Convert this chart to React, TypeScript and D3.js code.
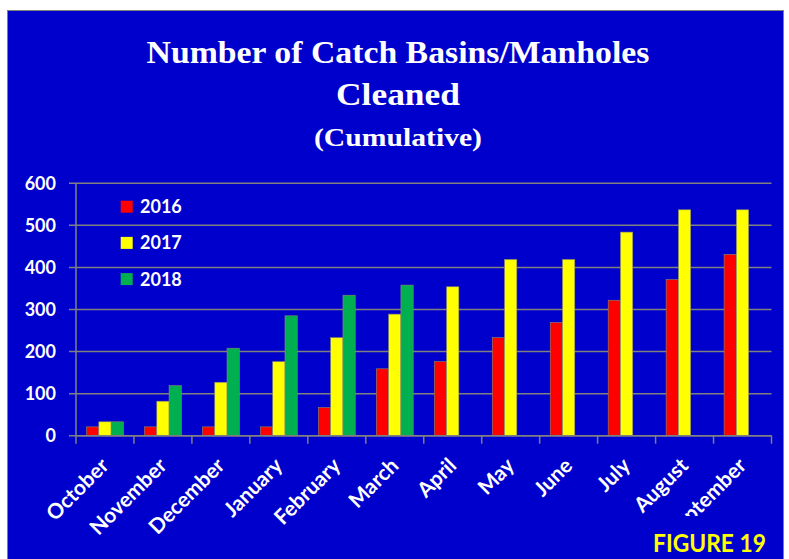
import React from 'react';
import * as d3 from 'd3';

// values
const months = ['October', 'November', 'December', 'January', 'February', 'March', 'April', 'May', 'June', 'July', 'August', 'September'];
const years = ['2016', '2017', '2018'];
const values2016 = [21, 21, 21, 21, 67, 159, 176, 233, 269, 322, 371, 431];
const values2017 = [33, 82, 127, 176, 233, 289, 354, 419, 419, 484, 537, 537];
const values2018: (number | null)[] = [33, 119, 208, 285, 334, 358, null, null, null, null, null, null];
const yTicks = [0, 100, 200, 300, 400, 500, 600];

const colors = ['#FF0000', '#FFFF00', '#00B050'];
const bg = '#0000CC';
const grid = '#808080';
const sans = 'Lato, "Open Sans", sans-serif';
const serif = '"Liberation Serif", "Times New Roman", serif';

const App = () => {
  const width = 789;
  const height = 559;
  const plot = { left: 76, right: 771.5, top: 183.3, bottom: 435.7 };

  const x = d3.scaleBand().domain(months).range([plot.left, plot.right]).padding(0);
  const x1 = d3.scaleBand().domain(years).range([0, x.bandwidth()]).paddingInner(0).paddingOuter(0.86);
  const y = d3.scaleLinear().domain([0, 600]).range([plot.bottom, plot.top]);

  const series = [values2016, values2017, values2018];

  return (
    <svg width={width} height={height} style={{ position: 'absolute', left: 0, top: 0, background: '#fff' }}>
      <rect x={7} y={10} width={777} height={height - 10} fill={grid} />
      <rect x={8} y={11} width={775} height={height - 11} fill={bg} />

      {/* title */}
      <g fill="#fff" fontFamily={serif} fontWeight="bold" textAnchor="middle">
        <text x={398} y={63} fontSize={31} textLength={503} lengthAdjust="spacingAndGlyphs">Number of Catch Basins/Manholes</text>
        <text x={398} y={105} fontSize={31} textLength={124} lengthAdjust="spacingAndGlyphs">Cleaned</text>
        <text x={398} y={146} fontSize={26} textLength={168} lengthAdjust="spacingAndGlyphs">(Cumulative)</text>
      </g>

      {/* grid + y axis */}
      {yTicks.map(t => (
        <g key={t}>
          <line x1={plot.left - 7} x2={plot.right} y1={y(t)} y2={y(t)} stroke={grid} strokeWidth={1.5} />
          <text x={56} y={y(t)} dy="0.36em" textAnchor="end" fill="#fff" fontFamily={sans} fontWeight="bold" fontSize={18}>{t}</text>
        </g>
      ))}
      <line x1={plot.left} x2={plot.left} y1={plot.top} y2={plot.bottom} stroke={grid} strokeWidth={1.5} />

      {/* bars */}
      {series.map((vals, si) =>
        vals.map((v, i) =>
          v == null ? null : (
            <rect
              key={`${si}-${i}`}
              x={(x(months[i]) ?? 0) + (x1(years[si]) ?? 0)}
              y={y(v)}
              width={x1.bandwidth()}
              height={y(0) - y(v)}
              fill={colors[si]}
              stroke="#8a8a6a"
              strokeWidth={0.6}
            />
          )
        )
      )}

      {/* x axis */}
      <line x1={plot.left} x2={plot.right} y1={plot.bottom} y2={plot.bottom} stroke={grid} strokeWidth={1.5} />
      {months.map((m, i) => (
        <line key={m} x1={plot.left + i * x.step()} x2={plot.left + i * x.step()} y1={plot.bottom} y2={plot.bottom + 8} stroke={grid} strokeWidth={1.5} />
      ))}
      <line x1={plot.right} x2={plot.right} y1={plot.bottom} y2={plot.bottom + 8} stroke={grid} strokeWidth={1.5} />
      {months.map(m => {
        const cx = (x(m) ?? 0) + x.bandwidth() / 2 + 5;
        return (
          <text key={m} transform={`translate(${cx},467) rotate(-45)`} textAnchor="end" fill="#fff" fontFamily={sans} fontWeight="bold" fontSize={21}>{m}</text>
        );
      })}

      {/* legend */}
      {years.map((yr, i) => {
        const cy = 206.7 + i * 36.2;
        return (
          <g key={yr}>
            <rect x={120.7} y={cy - 6} width={12} height={12} fill={colors[i]} />
            <text x={140} y={cy} dy="0.36em" fill="#fff" fontFamily={sans} fontWeight="bold" fontSize={18}>{yr}</text>
          </g>
        );
      })}

      {/* figure label box covers the end of the axis labels */}
      <rect x={640} y={516} width={143} height={height - 516} fill={bg} />
      <text x={653} y={551.7} fill="#FFFF00" fontFamily={sans} fontWeight="bold" fontSize={25} textLength={113} lengthAdjust="spacingAndGlyphs">FIGURE 19</text>
    </svg>
  );
};

export default App;
